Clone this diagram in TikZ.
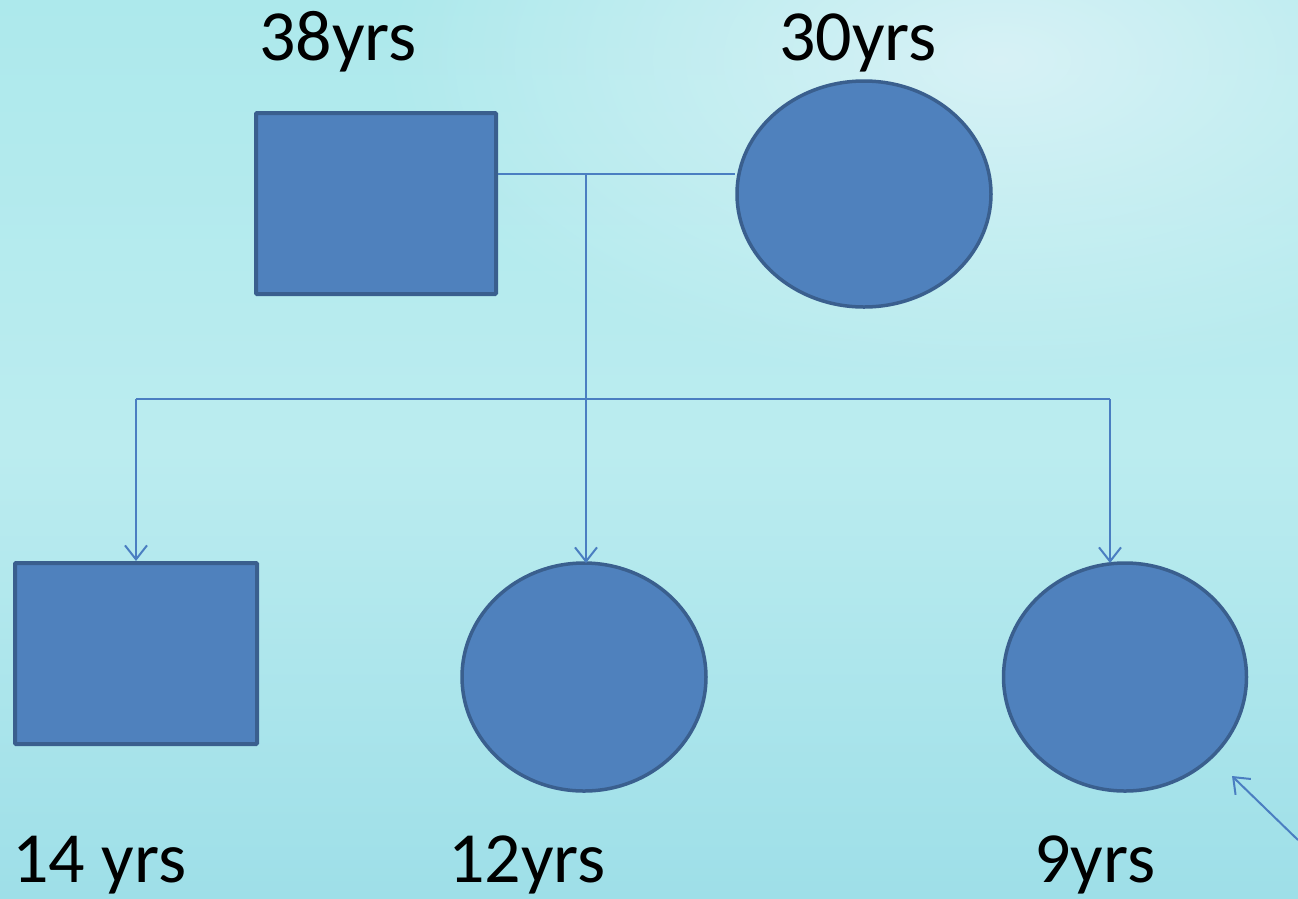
\documentclass[tikz,border=0pt]{standalone}
\usepackage{fontspec}
\setmainfont{Carlito}
\usetikzlibrary{arrows.meta,shapes.geometric,fadings}
\definecolor{shapefill}{HTML}{4F81BD}
\definecolor{shapeedge}{HTML}{3A5F8E}
\definecolor{linkcol}{HTML}{4A7EC1}
\definecolor{bgA}{HTML}{ADE9EC}
\definecolor{bgB}{HTML}{DCF3F7}
\definecolor{bgC}{HTML}{9EDFE8}
\tikzfading[name=softglow, inner color=transparent!10, outer color=transparent!100]
\tikzset{
  malebox/.style={draw=shapeedge,fill=shapefill,line width=4pt,rounded corners=1pt},
  femalebox/.style={draw=shapeedge,fill=shapefill,line width=3.5pt},
  link/.style={draw=linkcol,line width=2pt},
  arr/.style={link,-{Straight Barb[length=14pt,width=22pt,line width=2pt]}},
  age/.style={font=\fontsize{72}{80}\selectfont,anchor=base,inner sep=0pt}
}
\begin{document}
\begin{tikzpicture}[x=1pt,y=-1pt]
\useasboundingbox (0,0) rectangle (1298,898);
\shade[top color=bgA,bottom color=bgC,middle color=bgA!70!bgB] (0,0) rectangle (1298,898);
\fill[bgB,path fading=softglow] (1000,60) ellipse [x radius=620pt,y radius=330pt];
% parents
\node[malebox,minimum width=240pt,minimum height=181pt,inner sep=0pt] (father) at (376,203.5) {};
\node[femalebox,ellipse,minimum width=254pt,minimum height=226pt,inner sep=0pt] (mother) at (864,194) {};
% children
\node[malebox,minimum width=242pt,minimum height=181pt,inner sep=0pt] (son) at (136,653.5) {};
\node[femalebox,ellipse,minimum width=244pt,minimum height=228pt,inner sep=0pt] (dau1) at (584,677) {};
\node[femalebox,ellipse,minimum width=243pt,minimum height=228pt,inner sep=0pt] (dau2) at (1125,677) {};
% labels
\node[age] (lf) at (338,60) {38yrs};
\node[age] (lm) at (858,60) {30yrs};
\node[age,anchor=base west] (ls) at (12,882) {14 yrs};
\node[age] (ld1) at (527,882) {12yrs};
\node[age] (ld2) at (1095,882) {9yrs};
% connectors
\coordinate (mj) at (586,174);
\coordinate (sj) at (586,399);
\coordinate (jl) at (136,399);
\coordinate (jr) at (1110,399);
\coordinate (pt) at (1298,840);
\coordinate (ptend) at (1232,776);
\draw[link] (father.east |- mj) -- (mother.west |- mj);
\draw[link] (mj) -- (sj);
\draw[link] (jl) -- (jr);
\draw[arr] (jl) -- (son.north);
\draw[arr] (sj) -- (586,563);
\draw[arr] (jr) -- (1110,563);
\draw[arr] (pt) -- (ptend);
\end{tikzpicture}
\end{document}
